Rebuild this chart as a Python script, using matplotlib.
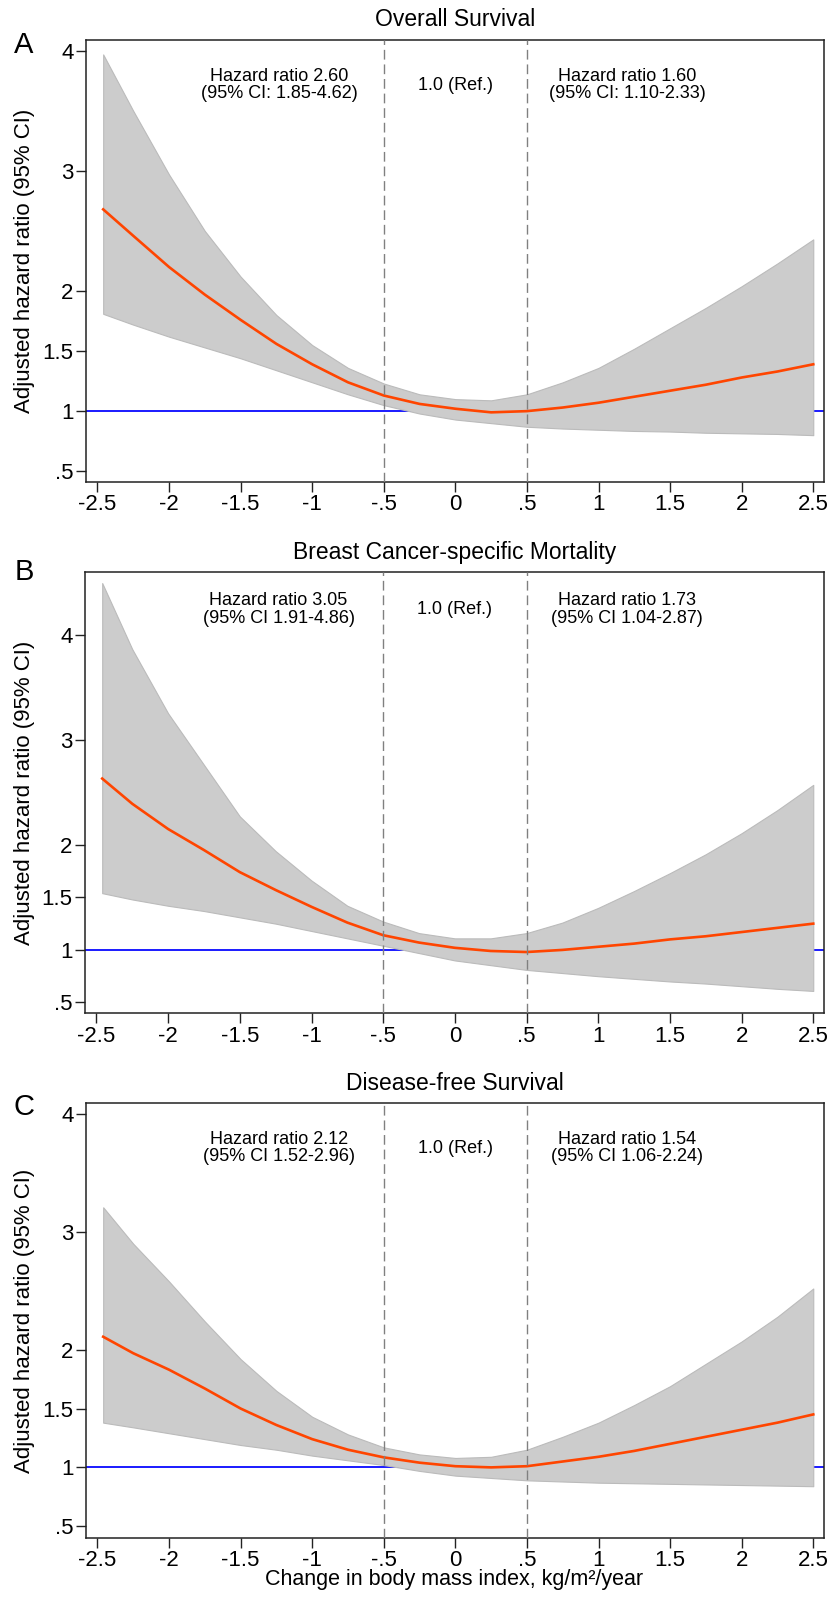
import matplotlib.pyplot as plt

plt.rcParams['font.family'] = ['Liberation Sans', 'DejaVu Sans']

# change in BMI (kg/m2/year)
bmi_change = [-2.46, -2.25, -2.0, -1.75, -1.5, -1.25, -1.0, -0.75, -0.5, -0.25, 0.0,
              0.25, 0.5, 0.75, 1.0, 1.25, 1.5, 1.75, 2.0, 2.25, 2.5]

# A - overall survival
os_hr = [2.68, 2.46, 2.20, 1.97, 1.76, 1.56, 1.39, 1.24, 1.13, 1.06, 1.02,
         0.99, 1.00, 1.03, 1.07, 1.12, 1.17, 1.22, 1.28, 1.33, 1.39]
os_lo = [1.81, 1.72, 1.62, 1.53, 1.44, 1.34, 1.24, 1.14, 1.05, 0.98, 0.93,
         0.90, 0.87, 0.855, 0.845, 0.835, 0.83, 0.82, 0.815, 0.81, 0.80]
os_hi = [3.97, 3.50, 2.97, 2.50, 2.12, 1.80, 1.55, 1.36, 1.23, 1.14, 1.10,
         1.09, 1.14, 1.24, 1.36, 1.52, 1.69, 1.86, 2.04, 2.23, 2.43]

# B - breast cancer-specific mortality
bcsm_hr = [2.63, 2.39, 2.15, 1.95, 1.74, 1.57, 1.41, 1.26, 1.14, 1.07, 1.02,
           0.99, 0.98, 1.00, 1.03, 1.06, 1.10, 1.13, 1.17, 1.21, 1.25]
bcsm_lo = [1.54, 1.48, 1.42, 1.37, 1.31, 1.25, 1.18, 1.11, 1.04, 0.97, 0.90,
           0.855, 0.81, 0.78, 0.75, 0.725, 0.70, 0.68, 0.655, 0.63, 0.61]
bcsm_hi = [4.49, 3.86, 3.25, 2.76, 2.27, 1.94, 1.66, 1.42, 1.27, 1.16, 1.11,
           1.11, 1.16, 1.26, 1.40, 1.56, 1.73, 1.91, 2.11, 2.33, 2.57]

# C - disease-free survival
dfs_hr = [2.11, 1.97, 1.83, 1.67, 1.50, 1.36, 1.24, 1.15, 1.085, 1.04, 1.01,
          1.00, 1.01, 1.05, 1.09, 1.14, 1.20, 1.26, 1.32, 1.38, 1.45]
dfs_lo = [1.38, 1.34, 1.29, 1.24, 1.19, 1.15, 1.10, 1.06, 1.02, 0.97, 0.93,
          0.91, 0.89, 0.88, 0.87, 0.865, 0.86, 0.855, 0.85, 0.845, 0.84]
dfs_hi = [3.21, 2.90, 2.58, 2.24, 1.92, 1.65, 1.43, 1.28, 1.17, 1.11, 1.08,
          1.09, 1.15, 1.26, 1.38, 1.53, 1.69, 1.88, 2.07, 2.28, 2.52]

panel_letters = ['A', 'B', 'C']
panel_titles = ['Overall Survival', 'Breast Cancer-specific Mortality', 'Disease-free Survival']
left_notes = ['Hazard ratio 2.60\n(95% CI: 1.85-4.62)',
              'Hazard ratio 3.05\n(95% CI 1.91-4.86)',
              'Hazard ratio 2.12\n(95% CI 1.52-2.96)']
right_notes = ['Hazard ratio 1.60\n(95% CI: 1.10-2.33)',
               'Hazard ratio 1.73\n(95% CI 1.04-2.87)',
               'Hazard ratio 1.54\n(95% CI 1.06-2.24)']
x_ticks = [-2.5, -2, -1.5, -1, -0.5, 0, 0.5, 1, 1.5, 2, 2.5]
x_tick_labels = ['-2.5', '-2', '-1.5', '-1', '-.5', '0', '.5', '1', '1.5', '2', '2.5']
y_ticks = [0.5, 1, 1.5, 2, 3, 4]
y_tick_labels = ['.5', '1', '1.5', '2', '3', '4']

hrs = [os_hr, bcsm_hr, dfs_hr]
los = [os_lo, bcsm_lo, dfs_lo]
his = [os_hi, bcsm_hi, dfs_hi]

W, H = 829, 1603
fig = plt.figure(figsize=(W / 100, H / 100), dpi=100)

# axes boxes in pixels: left, top, right, bottom
boxes = [(86, 40, 824, 482), (85, 572, 824, 1013), (86, 1103, 824, 1538)]
ylims = [(0.41, 4.09), (0.40, 4.595), (0.40, 4.096)]
note_y = [0.898, 0.9155, 0.8965]
letter_y = [45, 572, 1107]

for i in range(3):
    l, t, r, b = boxes[i]
    ax = fig.add_axes([l / W, 1 - b / H, (r - l) / W, (b - t) / H])

    ax.axhline(1, color='#1a1aff', lw=1.4, zorder=1)
    ax.fill_between(bmi_change, los[i], his[i], facecolor='#cccccc',
                    edgecolor='#bbbbbb', lw=0.8, zorder=2)
    ax.plot(bmi_change, hrs[i], color='#ff4500', lw=1.9, zorder=3)
    for xv in (-0.5, 0.5):
        ax.axvline(xv, color='#808080', lw=1.0, ls=(0, (7, 3.5)), zorder=4)

    tr = ax.get_xaxis_transform()
    ax.text(-1.23, note_y[i], left_notes[i], transform=tr, ha='center', va='center',
            fontsize=13, linespacing=1.05)
    ax.text(0, note_y[i], '1.0 (Ref.)', transform=tr, ha='center', va='center', fontsize=13)
    ax.text(1.2, note_y[i], right_notes[i], transform=tr, ha='center', va='center',
            fontsize=13, linespacing=1.05)

    ax.set_xlim(-2.58, 2.575)
    ax.set_ylim(*ylims[i])
    ax.set_xticks(x_ticks)
    ax.set_xticklabels(x_tick_labels)
    ax.set_yticks(y_ticks)
    ax.set_yticklabels(y_tick_labels)
    ax.tick_params(direction='out', length=7, width=1, labelsize=16, pad=2, color='#222222')
    for s in ax.spines.values():
        s.set_linewidth(1.1)
        s.set_color('#222222')

    h_px = b - t
    ax.text(0.5, 1 + 20 / h_px, panel_titles[i], transform=ax.transAxes,
            ha='center', va='center', fontsize=16.5)
    ax.text((25 - l) / (r - l), 0.5, 'Adjusted hazard ratio (95% CI)', transform=ax.transAxes,
            rotation=90, ha='center', va='center', fontsize=16)
    fig.text(24 / W, 1 - letter_y[i] / H, panel_letters[i], ha='center', va='center', fontsize=21)

fig.text(454 / W, 1 - 1580 / H, 'Change in body mass index, kg/m²/year',
         ha='center', va='center', fontsize=15.5)

fig.savefig('out.png', dpi=100)
